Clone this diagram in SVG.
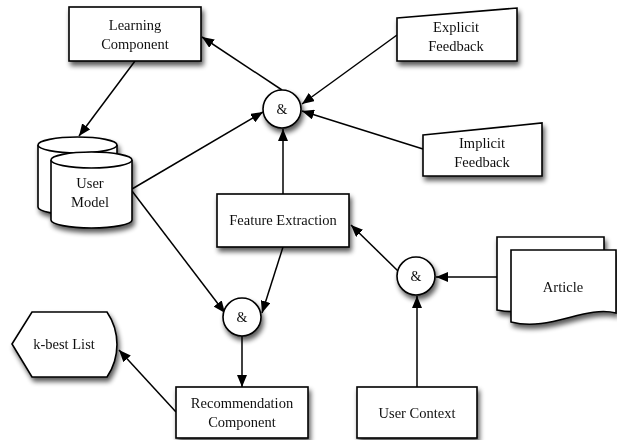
<svg xmlns="http://www.w3.org/2000/svg" width="617" height="440" viewBox="0 0 617 440">
<defs>
<filter id="sh" x="-20%" y="-20%" width="150%" height="160%">
<feGaussianBlur in="SourceAlpha" stdDeviation="2.5"/>
<feOffset dx="2" dy="4" result="b"/>
<feComponentTransfer><feFuncA type="linear" slope="0.65"/></feComponentTransfer>
<feMerge><feMergeNode/><feMergeNode in="SourceGraphic"/></feMerge>
</filter>
<marker id="ah" viewBox="0 0 12 10" refX="12" refY="5" markerWidth="12" markerHeight="10" markerUnits="userSpaceOnUse" orient="auto">
<path d="M0,0 L12,5 L0,10 Z" fill="#000"/>
</marker>
</defs>
<style>
.s{fill:#fff;stroke:#000;stroke-width:1.6}
.t{font-family:"Liberation Serif","Times New Roman",serif;font-size:14.5px;fill:#111;text-anchor:middle}
.c line{stroke:#000;stroke-width:1.5;marker-end:url(#ah)}
</style>
<rect width="617" height="440" fill="#fff"/>
<g class="c" id="connectors">
<line x1="282" y1="90" x2="202" y2="37"/>
<line x1="135" y1="61" x2="79" y2="136"/>
<line x1="397" y1="35" x2="302" y2="104"/>
<line x1="423" y1="149" x2="302" y2="111"/>
<line x1="132" y1="189" x2="263" y2="112"/>
<line x1="283" y1="194" x2="283" y2="129"/>
<line x1="132" y1="191" x2="225" y2="313"/>
<line x1="283" y1="247" x2="262" y2="313"/>
<line x1="242" y1="336" x2="242" y2="387"/>
<line x1="176" y1="412" x2="119" y2="350"/>
<line x1="398" y1="271" x2="351" y2="225"/>
<line x1="498" y1="277" x2="436" y2="277"/>
<line x1="417" y1="387" x2="417" y2="296"/>
</g>
<g id="learning" filter="url(#sh)">
<rect class="s" x="69" y="7" width="132" height="54"/>
<text class="t" x="135" y="30">Learning</text>
<text class="t" x="135" y="49">Component</text>
</g>
<g id="explicit" filter="url(#sh)">
<path class="s" d="M397,18 L517,8 L517,61 L397,61 Z"/>
<text class="t" x="456" y="32">Explicit</text>
<text class="t" x="456" y="51">Feedback</text>
</g>
<g id="implicit" filter="url(#sh)">
<path class="s" d="M423,135 L542,123 L542,176 L423,176 Z"/>
<text class="t" x="482" y="148">Implicit</text>
<text class="t" x="482" y="167">Feedback</text>
</g>
<g id="and1" filter="url(#sh)">
<circle class="s" cx="282" cy="109" r="19"/>
<text class="t" x="282" y="114" style="font-size:14px">&amp;</text>
</g>
<g id="usermodel" filter="url(#sh)">
<path class="s" d="M38,145 A39.5,8 0 0 1 117,145 V207 A39.5,8 0 0 1 38,207 Z"/>
<path class="s" d="M38,145 A39.5,8 0 0 0 117,145"/>
<path class="s" d="M51,160 A40.5,8 0 0 1 132,160 V220 A40.5,8 0 0 1 51,220 Z"/>
<path class="s" d="M51,160 A40.5,8 0 0 0 132,160"/>
<text class="t" x="90" y="188">User</text>
<text class="t" x="90" y="207">Model</text>
</g>
<g id="feature" filter="url(#sh)">
<rect class="s" x="217" y="194" width="132" height="53"/>
<text class="t" x="283" y="225">Feature Extraction</text>
</g>
<g id="and2" filter="url(#sh)">
<circle class="s" cx="242" cy="317" r="19"/>
<text class="t" x="242" y="322" style="font-size:14px">&amp;</text>
</g>
<g id="and3" filter="url(#sh)">
<circle class="s" cx="416" cy="276" r="19"/>
<text class="t" x="416" y="281" style="font-size:14px">&amp;</text>
</g>
<g id="kbest" filter="url(#sh)">
<path class="s" d="M12,344 L32,312 H107 A58,58 0 0 1 107,377 H32 Z"/>
<text class="t" x="64" y="349">k-best List</text>
</g>
<g id="recommendation" filter="url(#sh)">
<rect class="s" x="176" y="387" width="132" height="51"/>
<text class="t" x="242" y="408">Recommendation</text>
<text class="t" x="242" y="427">Component</text>
</g>
<g id="usercontext" filter="url(#sh)">
<rect class="s" x="357" y="387" width="120" height="51"/>
<text class="t" x="417" y="418">User Context</text>
</g>
<g id="article" filter="url(#sh)">
<path class="s" d="M497,237 H604 V300 C575,293 535,318 497,310 Z"/>
<path class="s" d="M511,250 H616 V313 C585,305 550,332 511,322 Z"/>
<text class="t" x="563" y="292">Article</text>
</g>
</svg>
